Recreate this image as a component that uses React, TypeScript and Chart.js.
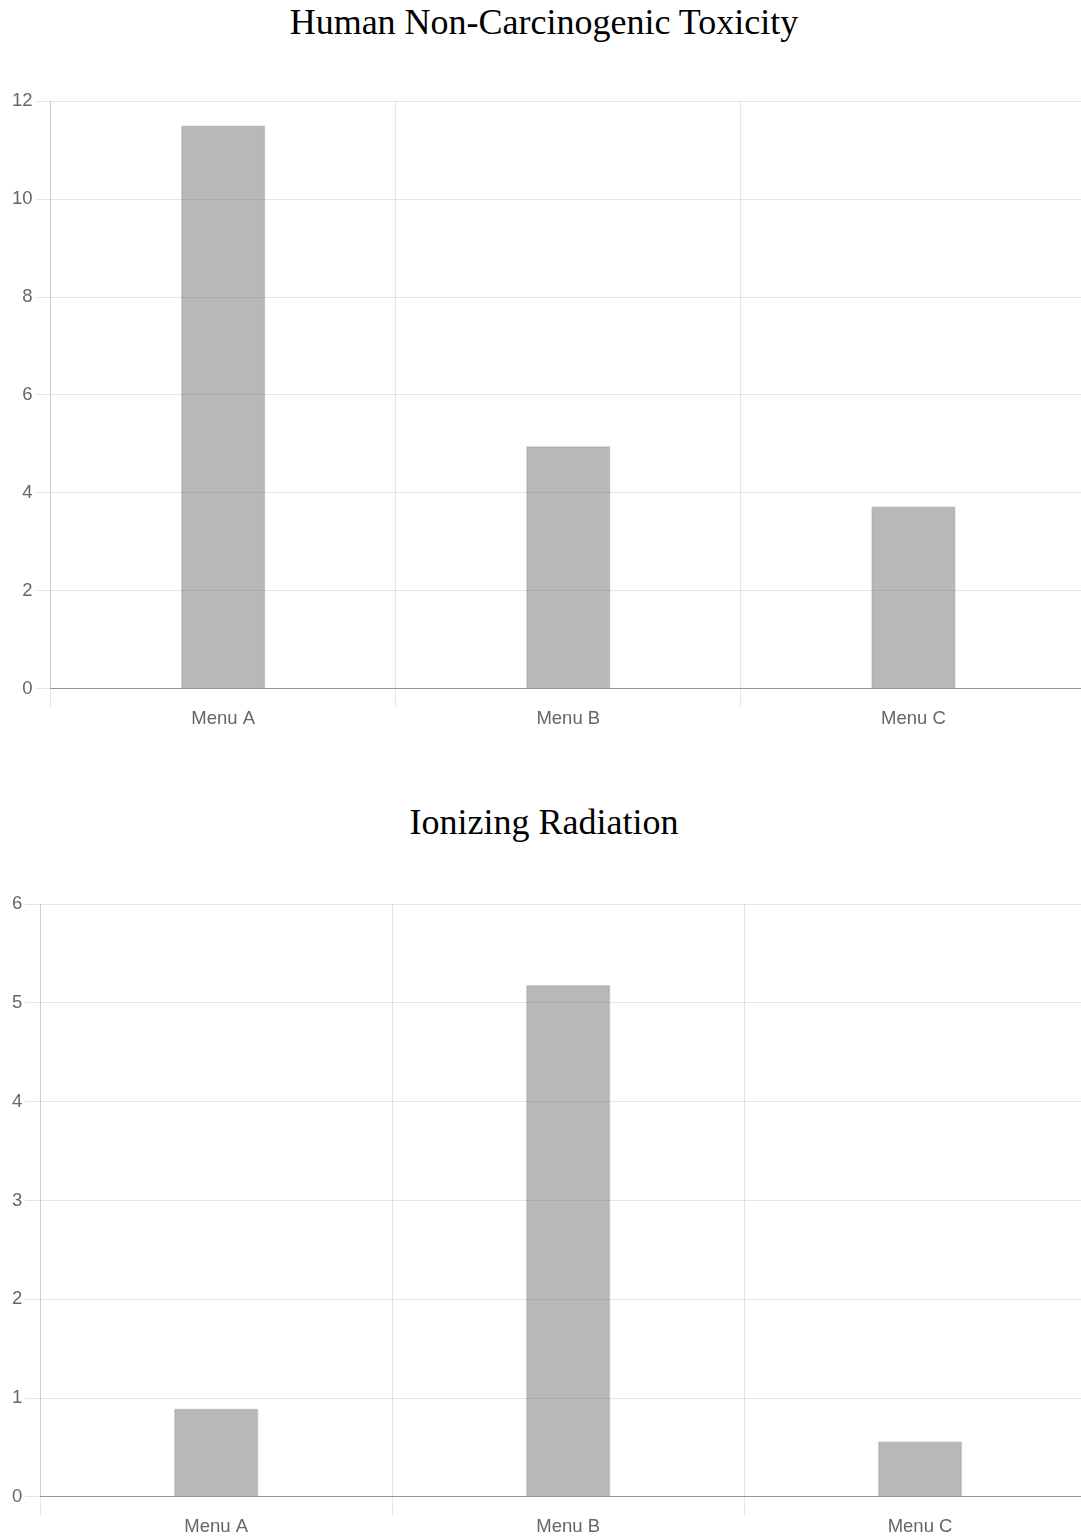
import React, { useEffect, useRef } from "react";
import { Chart, registerables } from "chart.js";

Chart.register(...registerables);

const categories = ["Menu A", "Menu B", "Menu C"];
const toxicityValues = [11.5, 4.95, 3.72];
const radiationValues = [0.89, 5.18, 0.56];
const toxicityTitle = "Human Non-Carcinogenic Toxicity";
const radiationTitle = "Ionizing Radiation";

type Props = {
  values: number[];
  yMax: number;
  step: number;
  top: number;
  width: number;
  height: number;
};

const tickFont = { family: "'Liberation Sans', Arial, sans-serif", size: 18.5 };

function BarChart({ values, yMax, step, top, width, height }: Props) {
  const ref = useRef<HTMLCanvasElement | null>(null);
  useEffect(() => {
    if (!ref.current) return;
    const chart = new Chart(ref.current, {
      type: "bar",
      data: {
        labels: categories,
        datasets: [
          {
            data: values,
            backgroundColor: "rgba(120,120,120,0.53)",
            borderColor: "rgba(120,120,120,0.25)",
            borderWidth: 1,
            barThickness: 84,
          },
        ],
      },
      options: {
        animation: false,
        responsive: false,
        maintainAspectRatio: false,
        layout: { padding: { top: 12, left: 9, right: 0, bottom: 0 } },
        plugins: {
          legend: { display: false },
          tooltip: { enabled: false },
          title: { display: false },
        },
        scales: {
          x: {
            grid: { color: "rgba(0,0,0,0.1)", tickLength: 18, offset: true },
            border: { color: "rgba(0,0,0,0.35)" },
            ticks: { color: "#666", padding: 1, font: tickFont },
          },
          y: {
            min: 0,
            max: yMax,
            grid: { color: "rgba(0,0,0,0.1)", tickLength: 15 },
            border: { color: "rgba(0,0,0,0.1)" },
            ticks: { stepSize: step, color: "#666", padding: 3, font: tickFont },
          },
        },
      },
    });
    return () => chart.destroy();
  }, [values, yMax, step]);
  return (
    <div style={{ position: "absolute", left: 0, top, width, height }}>
      <canvas ref={ref} width={width} height={height} style={{ width, height }} />
    </div>
  );
}

function Title({ text, top }: { text: string; top: number }) {
  return (
    <div
      style={{
        position: "absolute",
        left: 0,
        top,
        width: 1088,
        textAlign: "center",
        fontFamily: "'Liberation Serif', 'Times New Roman', serif",
        fontSize: 36,
        lineHeight: "40px",
        color: "#000",
      }}
    >
      {text}
    </div>
  );
}

export default function App() {
  return (
    <div style={{ position: "absolute", left: 0, top: 0, width: 1081, height: 1539, overflow: "hidden", background: "#fff" }}>
      <Title text={toxicityTitle} top={2} />
      <BarChart values={toxicityValues} yMax={12} step={2} top={87} width={1086} height={644} />
      <Title text={radiationTitle} top={802} />
      <BarChart values={radiationValues} yMax={6} step={1} top={890} width={1096} height={649} />
    </div>
  );
}
